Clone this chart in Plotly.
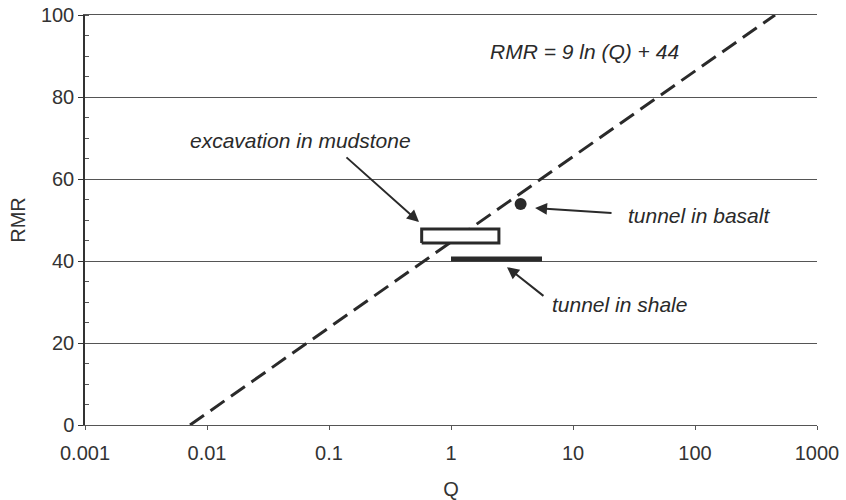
import plotly.graph_objects as go

# ---- data ----
x_tickvals = [0.001, 0.01, 0.1, 1, 10, 100, 1000]
x_ticktext = ["0.001", "0.01", "0.1", "1", "10", "100", "1000"]
y_tickvals = [0, 20, 40, 60, 80, 100]

line_Q = [0.00726, 453]          # RMR = 9 ln(Q) + 44 endpoints
line_RMR = [0, 100]

mudstone_Q = [0.575, 2.47]       # excavation in mudstone box
mudstone_RMR = [44.4, 47.8]

shale_Q = [1.0, 5.57]            # tunnel in shale range
shale_RMR = [40.5, 40.5]

basalt_Q = [3.72]                # tunnel in basalt point
basalt_RMR = [53.9]

FONT = "Liberation Sans, Arial, Helvetica, sans-serif"
INK = "#2a2a2a"

fig = go.Figure()

fig.add_trace(go.Scatter(
    x=line_Q, y=line_RMR, mode="lines",
    line=dict(color=INK, width=3, dash="17px,8px"),
    hoverinfo="skip", showlegend=False))

fig.add_trace(go.Scatter(
    x=[mudstone_Q[0], mudstone_Q[1], mudstone_Q[1], mudstone_Q[0], mudstone_Q[0]],
    y=[mudstone_RMR[0], mudstone_RMR[0], mudstone_RMR[1], mudstone_RMR[1], mudstone_RMR[0]],
    mode="lines", fill="toself", fillcolor="white",
    line=dict(color=INK, width=3),
    hoverinfo="skip", showlegend=False))

fig.add_trace(go.Scatter(
    x=shale_Q, y=shale_RMR, mode="lines",
    line=dict(color=INK, width=5),
    hoverinfo="skip", showlegend=False))

fig.add_trace(go.Scatter(
    x=basalt_Q, y=basalt_RMR, mode="markers",
    marker=dict(color=INK, size=12),
    hoverinfo="skip", showlegend=False))

texts = [
    ("RMR = 9 ln (Q) + 44", 1.098, 91.0),
    ("excavation in mudstone", -1.230, 69.3),
    ("tunnel in basalt", 2.029, 51.2),
    ("tunnel in shale", 1.385, 29.3),
]
for t, x, y in texts:
    fig.add_annotation(x=x, y=y, xref="x", yref="y", text="<i>" + t + "</i>",
                       showarrow=False,
                       font=dict(family=FONT, size=21, color=INK),
                       xanchor="center", yanchor="middle")

arrows = [
    ((-0.869, 65.6), (-0.262, 49.5)),
    ((1.328, 51.7), (0.689, 52.9)),
    ((0.770, 31.2), (0.459, 38.5)),
]
for (tx, ty), (hx, hy) in arrows:
    fig.add_annotation(x=hx, y=hy, ax=tx, ay=ty, xref="x", yref="y",
                       axref="x", ayref="y", text="", showarrow=True,
                       arrowhead=2, arrowsize=1.2, arrowwidth=2, arrowcolor=INK)

fig.update_layout(
    width=846, height=500,
    margin=dict(l=85, r=29, t=15, b=75),
    paper_bgcolor="white", plot_bgcolor="white",
    font=dict(family=FONT, size=20, color="#333"),
    showlegend=False,
)
fig.update_xaxes(
    type="log", range=[-3, 3], automargin=False,
    tickvals=x_tickvals, ticktext=x_ticktext,
    showgrid=False, zeroline=False,
    showline=True, linecolor="#555", linewidth=1, mirror=True,
    ticks="outside", ticklen=4, tickcolor="#555",
    ticklabelstandoff=6,
    tickfont=dict(size=20, color="#333"),
    title=dict(text="Q", font=dict(size=20, color="#333"), standoff=18),
)
fig.update_yaxes(
    range=[0, 100], tickvals=y_tickvals, automargin=False,
    showgrid=True, gridcolor="#555", gridwidth=1,
    zeroline=False, showline=True, linecolor="#333", linewidth=1.5,
    ticks="outside", ticklen=5, tickcolor="#333",
    minor=dict(dtick=5, ticks="inside", ticklen=4, tickcolor="#555", showgrid=False),
    tickfont=dict(size=20, color="#333"),
    title=dict(text="RMR", font=dict(size=20, color="#333"), standoff=10),
)

fig.write_html("out.html")
